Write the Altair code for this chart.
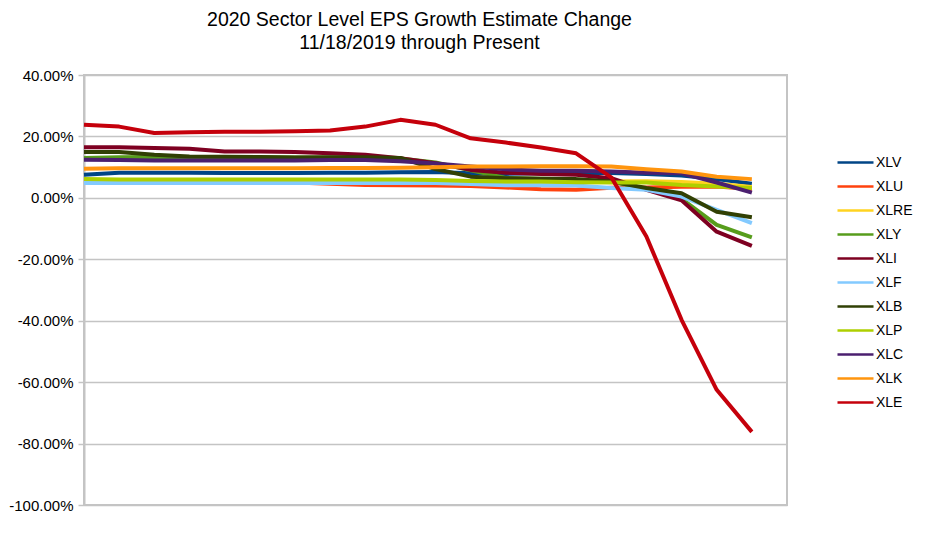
import altair as alt
import pandas as pd

series = ["XLV", "XLU", "XLRE", "XLY", "XLI", "XLF", "XLB", "XLP", "XLC", "XLK", "XLE"]
colors = ["#004586", "#ff420e", "#ffd320", "#579d1c", "#7e0021", "#83caff",
          "#314004", "#aecf00", "#4b1f6f", "#ff950e", "#c5000b"]

# 20 observations (percent), 11/18/2019 through present
xlv  = [7.5, 8.2, 8.2, 8.2, 8.1, 8.1, 8.1, 8.2, 8.2, 8.3, 8.4, 8.0, 7.8, 8.0, 8.1, 8.1, 7.8, 7.3, 6.1, 4.6]
xlu  = [5.0, 5.0, 5.0, 5.0, 5.0, 5.0, 5.0, 4.6, 4.2, 4.1, 4.0, 3.9, 3.4, 2.8, 2.6, 3.3, 3.4, 3.6, 3.7, 2.9]
xlre = [5.6, 5.6, 5.6, 5.6, 5.6, 5.6, 5.6, 5.6, 5.6, 5.6, 5.5, 5.3, 5.2, 5.2, 5.2, 5.3, 5.4, 5.2, 4.6, 3.5]
xly  = [13.0, 13.2, 13.3, 13.3, 13.2, 13.2, 13.1, 13.1, 13.0, 12.8, 11.5, 9.0, 6.5, 6.2, 6.0, 5.3, 2.9, -0.3, -8.8, -12.9]
xli  = [16.5, 16.5, 16.2, 16.0, 15.1, 15.1, 14.9, 14.5, 14.0, 12.9, 11.3, 9.1, 8.2, 7.8, 7.5, 6.4, 2.6, -0.8, -11.0, -15.6]
xlf  = [4.8, 4.8, 4.8, 4.8, 4.8, 4.8, 4.8, 4.8, 4.8, 4.8, 4.8, 4.5, 4.1, 4.1, 4.0, 3.2, 2.6, 0.4, -3.9, -8.2]
xlb  = [14.9, 14.9, 14.0, 13.5, 13.4, 13.3, 13.1, 13.2, 13.2, 13.0, 9.4, 6.9, 6.4, 6.2, 6.1, 5.3, 3.2, 1.5, -4.5, -6.3]
xlp  = [6.1, 6.0, 6.0, 6.0, 6.0, 6.0, 6.0, 6.0, 6.0, 6.0, 5.8, 5.5, 5.3, 5.3, 5.1, 5.0, 5.0, 4.2, 3.7, 3.2]
xlc  = [12.4, 12.3, 12.2, 12.2, 12.2, 12.2, 12.2, 12.3, 12.3, 11.9, 11.2, 10.2, 9.3, 8.8, 8.8, 8.6, 8.2, 8.0, 5.0, 1.7]
xlk  = [9.5, 9.6, 9.6, 9.6, 9.6, 9.6, 9.6, 9.7, 9.7, 9.8, 10.0, 10.2, 10.2, 10.3, 10.3, 10.2, 9.3, 8.6, 6.9, 6.1]
xle  = [23.8, 23.2, 21.1, 21.4, 21.5, 21.5, 21.7, 21.9, 23.2, 25.4, 23.8, 19.4, 18.0, 16.4, 14.5, 6.7, -12.6, -39.7, -62.5, -76.2]

y_ticks = [-100, -80, -60, -40, -20, 0, 20, 40]

values = [xlv, xlu, xlre, xly, xli, xlf, xlb, xlp, xlc, xlk, xle]
rows = []
for k, (name, vals) in enumerate(zip(series, values)):
    for i, v in enumerate(vals):
        rows.append({"series": name, "order": k, "idx": i, "value": v})
df = pd.DataFrame(rows)

grid_color = "#c4c4c4"

chart = alt.Chart(df).mark_line(strokeWidth=4, strokeJoin="round", strokeCap="butt").encode(
    x=alt.X("idx:Q", scale=alt.Scale(domain=[0, 20], nice=False), axis=None),
    y=alt.Y("value:Q",
            scale=alt.Scale(domain=[-100, 40], nice=False),
            axis=alt.Axis(values=y_ticks, title=None,
                          labelExpr="(datum.value < 0 ? '-' : '') + format(abs(datum.value), '.2f') + '%'",
                          labelFont="Liberation Sans", labelFontSize=15, labelColor="#000000",
                          labelPadding=5, tickSize=6, tickColor=grid_color, tickWidth=1.5,
                          domainColor=grid_color, domainWidth=2,
                          gridColor=grid_color, gridWidth=1.5)),
    color=alt.Color("series:N", sort=series,
                    scale=alt.Scale(domain=series, range=colors),
                    legend=alt.Legend(title=None, orient="none", legendX=761, legendY=77,
                                      symbolType="M-2,0L2,0", symbolSize=324, symbolStrokeWidth=2.5,
                                      labelFont="Liberation Sans", labelFontSize=14,
                                      labelColor="#000000", rowPadding=6, labelOffset=10)),
    order=alt.Order("order:Q"),
    detail="series:N",
).properties(
    width=703,
    height=430,
    autosize=alt.AutoSizeParams(type="none"),
    padding={"left": 76, "top": 67, "right": 130, "bottom": 25},
    title=alt.TitleParams(
        text=["2020 Sector Level EPS Growth Estimate Change", "11/18/2019 through Present"],
        font="Liberation Sans", fontSize=19.5, fontWeight="normal", color="#000000",
        lineHeight=23, anchor="middle", dx=-16, offset=15),
).configure_view(stroke=grid_color, strokeWidth=2)

chart.save("out.html", embed_options={"renderer": "svg", "actions": False})
